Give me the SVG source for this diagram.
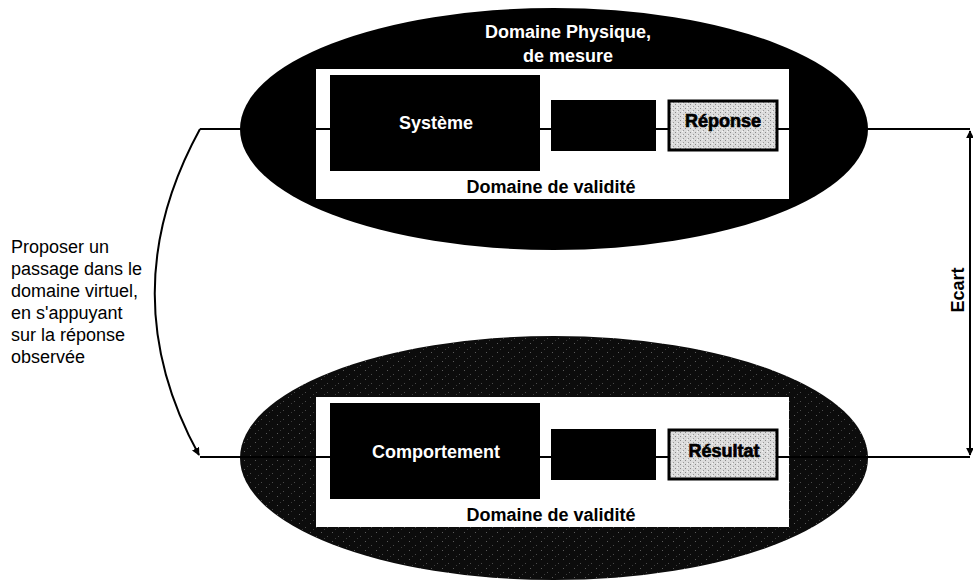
<svg xmlns="http://www.w3.org/2000/svg" width="973" height="581" viewBox="0 0 973 581">
<defs>
<style>
.t{font-family:"Liberation Sans",Arial,sans-serif;font-size:18px}
.b{font-weight:bold}
.w{fill:#fff}
.k{fill:#000}
.c{text-anchor:middle}
.ln{stroke:#000;stroke-width:2;fill:none}
.blk{fill:#000}
.res{fill:url(#dith);stroke:#000;stroke-width:3}
.hv{fill:#000;stroke:#000;stroke-width:0.7}
</style>
<pattern id="dith" width="5" height="4" patternUnits="userSpaceOnUse">
<rect width="5" height="4" fill="#dcdcdc"/>
<rect x="0" y="0" width="1" height="1" fill="#8a8a8a"/>
<rect x="3" y="2" width="1" height="1" fill="#9a9a9a"/>
<rect x="2" y="3" width="1" height="1" fill="#f4f4f4"/>
</pattern>
<pattern id="dark" width="11" height="9" patternUnits="userSpaceOnUse">
<rect width="11" height="9" fill="#0c0c0c"/>
<rect x="2" y="1" width="1" height="1" fill="#5a5a5a"/>
<rect x="8" y="5" width="1" height="1" fill="#4a4a4a"/>
<rect x="5" y="7" width="1" height="1" fill="#3a3a3a"/>
</pattern>
<marker id="ah" viewBox="0 0 10 10" refX="9" refY="5" markerWidth="4" markerHeight="4" orient="auto-start-reverse">
<path d="M0,0 L10,5 L0,10 z" fill="#000"/>
</marker>
</defs>

<g id="physique">
<ellipse cx="554" cy="129" rx="314" ry="121" fill="#000"/>
<text class="t b w c" x="568" y="38">Domaine Physique,</text>
<text class="t b w c" x="568" y="62">de mesure</text>
<rect x="316" y="69" width="473" height="130" fill="#fff"/>
<text class="t b k c" x="551" y="193">Domaine de validité</text>
</g>

<g id="virtuel">
<ellipse cx="554" cy="458" rx="314" ry="122" fill="url(#dark)"/>
<rect x="316" y="397" width="473" height="130" fill="#fff"/>
<text class="t b k c" x="551" y="521">Domaine de validité</text>
</g>

<g id="connectors">
<line class="ln" x1="200" y1="129" x2="970" y2="129"/>
<line class="ln" x1="200" y1="457" x2="970" y2="457"/>
<path class="ln" d="M200,129 Q110,293 199,455" marker-end="url(#ah)"/>
<line class="ln" x1="970" y1="131" x2="970" y2="455" marker-start="url(#ah)" marker-end="url(#ah)"/>
</g>

<g id="systeme">
<rect class="blk" x="330" y="75" width="210" height="96"/>
<text class="t b w c" x="436" y="129">Système</text>
</g>
<g id="bloc1">
<rect class="blk" x="551" y="100" width="105" height="51"/>
</g>
<g id="reponse">
<rect class="res" x="669" y="101" width="108" height="49"/>
<text class="t b hv c" x="723" y="127">Réponse</text>
</g>

<g id="comportement">
<rect class="blk" x="330" y="403" width="210" height="96"/>
<text class="t b w c" x="436" y="458">Comportement</text>
</g>
<g id="bloc2">
<rect class="blk" x="551" y="429" width="105" height="51"/>
</g>
<g id="resultat">
<rect class="res" x="669" y="430" width="108" height="49"/>
<text class="t b hv c" x="724" y="457">Résultat</text>
</g>

<g id="proposer">
<text class="t" x="11" y="253">Proposer un</text>
<text class="t" x="11" y="275">passage dans le</text>
<text class="t" x="11" y="297">domaine virtuel,</text>
<text class="t" x="11" y="319">en s'appuyant</text>
<text class="t" x="11" y="341">sur la réponse</text>
<text class="t" x="11" y="363">observée</text>
</g>

<g id="ecart">
<text class="t b c" transform="translate(964,290) rotate(-90)">Ecart</text>
</g>
</svg>
